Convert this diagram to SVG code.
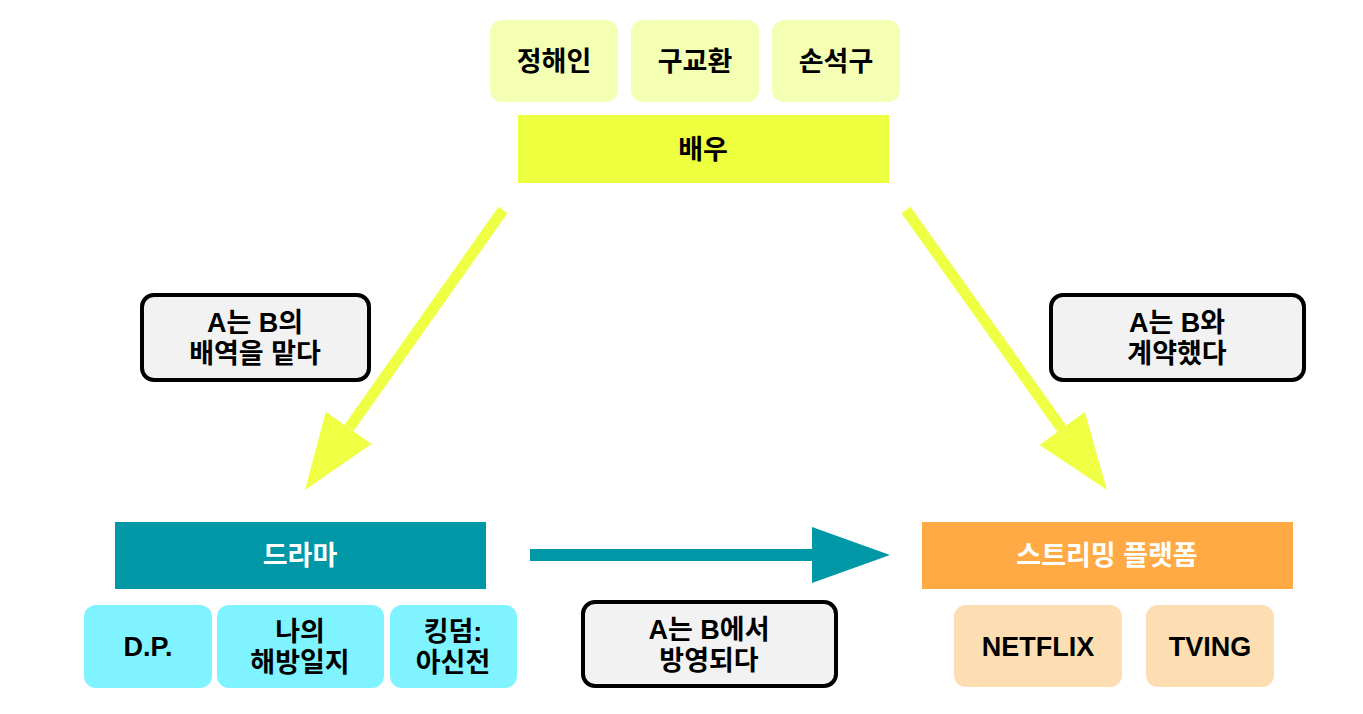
<svg xmlns="http://www.w3.org/2000/svg" width="1363" height="714" viewBox="0 0 1363 714">
<style>
text{font-family:"Liberation Sans","Noto Sans CJK KR",sans-serif;font-weight:bold;font-size:27px;text-anchor:middle;fill:#000}
.w{fill:#fff}
.actor{fill:#F4FFB4}
.drama{fill:#7FF3FF}
.plat{fill:#FDDDB2}
.lbl{fill:#F2F2F2;stroke:#000;stroke-width:4}
.ya{stroke:#EEFF44;stroke-width:11;fill:none}
.yh{fill:#EEFF44}
</style>
<rect width="1363" height="714" fill="#fff"/>
<g id="connectors">
<line class="ya" x1="503" y1="210" x2="349" y2="428"/>
<polygon class="yh" points="325.8,411.7 371.6,443.9 305,490"/>
<line class="ya" x1="906" y1="210" x2="1062" y2="429"/>
<polygon class="yh" points="1084.8,412.1 1039.6,445.1 1107,490"/>
<line x1="530" y1="555" x2="813" y2="555" stroke="#0097A7" stroke-width="12"/>
<polygon points="812,527 812,583 890,555" fill="#0097A7"/>
</g>
<g id="actor1"><rect class="actor" x="490" y="20" width="128" height="82" rx="12"/><text x="554" y="71">정해인</text></g>
<g id="actor2"><rect class="actor" x="631" y="20" width="128" height="82" rx="12"/><text x="695" y="71">구교환</text></g>
<g id="actor3"><rect class="actor" x="772" y="20" width="128" height="82" rx="12"/><text x="836" y="71">손석구</text></g>
<g id="actor"><rect x="518" y="115" width="371" height="68" fill="#EEFF3F"/><text x="703" y="159">배우</text></g>
<g id="label-role"><rect class="lbl" x="142" y="295" width="227" height="85" rx="12"/><text x="255" y="332">A는 B의</text><text x="255" y="363">배역을 맡다</text></g>
<g id="label-contract"><rect class="lbl" x="1051" y="295" width="253" height="85" rx="12"/><text x="1177" y="332">A는 B와</text><text x="1177" y="363">계약했다</text></g>
<g id="drama"><rect x="115" y="522" width="371" height="67" fill="#0097A7"/><text class="w" x="300" y="565">드라마</text></g>
<g id="drama1"><rect class="drama" x="84" y="605" width="128" height="83" rx="12"/><text x="148" y="656">D.P.</text></g>
<g id="drama2"><rect class="drama" x="217" y="605" width="167" height="83" rx="12"/><text x="300" y="641">나의</text><text x="300" y="672">해방일지</text></g>
<g id="drama3"><rect class="drama" x="390" y="605" width="127" height="83" rx="12"/><text x="453" y="641">킹덤:</text><text x="453" y="672">아신전</text></g>
<g id="label-air"><rect class="lbl" x="583" y="602" width="253" height="84" rx="12"/><text x="709" y="639">A는 B에서</text><text x="709" y="670">방영되다</text></g>
<g id="platform"><rect x="922" y="522" width="371" height="67" fill="#FFAA44"/><text class="w" x="1107" y="565">스트리밍 플랫폼</text></g>
<g id="plat1"><rect class="plat" x="954" y="605" width="168" height="82" rx="12"/><text x="1038" y="656">NETFLIX</text></g>
<g id="plat2"><rect class="plat" x="1146" y="605" width="128" height="82" rx="12"/><text x="1210" y="656">TVING</text></g>
</svg>
